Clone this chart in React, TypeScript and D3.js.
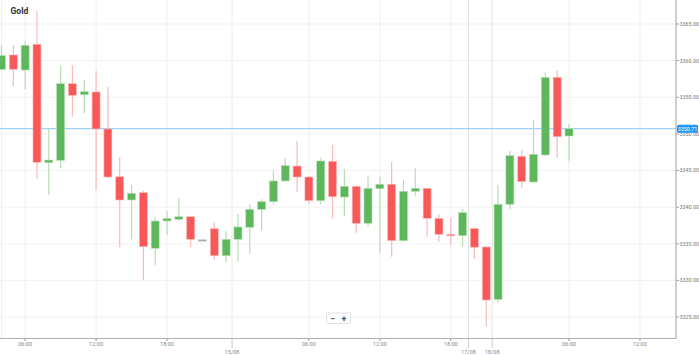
import React from "react";
import * as d3 from "d3";

const opens = [3358.8, 3360.77, 3358.72, 3362.23, 3346.06, 3346.39, 3356.85, 3355.35, 3355.72, 3350.67,
  3344.15, 3340.97, 3341.97, 3334.38, 3338.11, 3338.34, 3338.69, 3335.55, 3337.05, 3333.37,
  3335.61, 3337.25, 3339.7, 3340.74, 3343.57, 3345.61, 3344.11, 3340.88, 3346.26, 3341.38,
  3342.84, 3337.79, 3342.52, 3343.12, 3335.42, 3342.16, 3342.57, 3338.47, 3336.29, 3336.1,
  3337.08, 3334.56, 3327.42, 3340.39, 3346.94, 3343.43, 3347.12, 3357.72, 3349.71];
const highs = [3362.1, 3362.13, 3362.68, 3366.77, 3350.67, 3359.31, 3359.4, 3357.36, 3358.58, 3356.4,
  3346.8, 3343.02, 3342.24, 3338.69, 3339.47, 3341.2, 3338.69, 3335.6, 3337.93, 3336.74,
  3339.02, 3340.43, 3341.07, 3345.11, 3346.75, 3349.03, 3344.2, 3346.75, 3348.48, 3345.16,
  3343.0, 3344.34, 3344.15, 3346.2, 3343.7, 3345.3, 3342.6, 3339.06, 3338.56, 3339.74,
  3337.2, 3334.6, 3343.02, 3347.66, 3347.8, 3351.89, 3358.41, 3358.58, 3351.35];
const lows = [3358.7, 3356.54, 3356.09, 3343.84, 3341.66, 3345.34, 3352.34, 3352.81, 3342.3, 3343.9,
  3334.51, 3335.61, 3330.05, 3332.06, 3336.19, 3338.15, 3334.6, 3335.5, 3332.74, 3332.47,
  3332.55, 3333.56, 3336.78, 3340.39, 3343.5, 3342.11, 3340.43, 3340.39, 3338.47, 3338.75,
  3336.51, 3337.33, 3333.78, 3333.23, 3335.28, 3341.56, 3335.96, 3335.28, 3334.83, 3334.6,
  3332.96, 3323.68, 3326.95, 3339.74, 3342.65, 3343.4, 3346.98, 3346.75, 3346.34];
const closes = [3360.7, 3358.82, 3362.09, 3346.12, 3346.43, 3356.85, 3355.27, 3355.76, 3350.67, 3344.11,
  3340.97, 3341.89, 3334.6, 3338.11, 3338.47, 3338.69, 3335.61, 3335.55, 3333.37, 3335.61,
  3337.29, 3339.7, 3340.74, 3343.57, 3345.66, 3344.11, 3340.88, 3346.3, 3341.42, 3342.84,
  3337.79, 3342.57, 3343.12, 3335.42, 3342.16, 3342.57, 3338.47, 3336.29, 3336.1, 3339.24,
  3334.53, 3327.32, 3340.39, 3347.02, 3343.47, 3347.21, 3357.72, 3349.61, 3350.71];

const priceTicks = [3325, 3330, 3335, 3340, 3345, 3350, 3355, 3360, 3365];
const timeTickIdx = [2, 8, 14, 26, 32, 38, 48, 54];
const timeTickLabels = ["06:00", "12:00", "18:00", "06:00", "12:00", "18:00", "06:00", "12:00"];
const dateTickIdx = [19.5, 39.5, 41.5];
const dateTickLabels = ["15/08", "17/08", "18/08"];
const lastPrice = 3350.71;
const title = "Gold";

const W = 699, H = 356;
const plotRight = 676, axisY = 338.5;
const FONT = "Roboto, 'Open Sans', sans-serif";

export default function App() {
  const x = d3.scaleLinear().domain([-0.127, 57.05]).range([0, plotRight]);
  const y = d3.scaleLinear().domain([3325, 3365]).range([317, 24]);
  const bw = 8;
  const RED = "#f95858", RED_W = "#fbb9b9", GREEN = "#5cb85a", GREEN_W = "#b7ddb5";
  const candles = opens.map((o, i) => ({ i, o, h: highs[i], l: lows[i], c: closes[i] }));

  return (
    <svg width={W} height={H} style={{ position: "absolute", left: 0, top: 0, background: "#fff" }} fontFamily={FONT}>
      <rect x={0} y={0} width={W} height={H} fill="#fff" />
      {/* horizontal grid */}
      {priceTicks.map((p) => (
        <line key={"hg" + p} x1={0} x2={plotRight} y1={y(p)} y2={y(p)} stroke="#f1f1f1" strokeWidth={1} />
      ))}
      {/* vertical grid */}
      <line x1={1.5} x2={1.5} y1={0} y2={axisY} stroke="#eeeeee" />
      {timeTickIdx.map((t, k) => (
        <line key={"vg" + k} x1={x(t)} x2={x(t)} y1={0} y2={axisY} stroke="#f0f0f0" strokeWidth={1} />
      ))}
      {dateTickIdx.map((t, k) => (
        <line key={"dg" + k} x1={x(t)} x2={x(t)} y1={0} y2={axisY} stroke={k === 0 ? "#ececec" : "#e2e2e2"} strokeWidth={1} />
      ))}
      {/* current price line */}
      <line x1={0} x2={plotRight} y1={y(lastPrice)} y2={y(lastPrice)} stroke="#9fd0f5" strokeWidth={1.3} />
      {/* candles */}
      {candles.map((d) => {
        const cx = x(d.i);
        const up = d.c > d.o;
        const flat = d.c === d.o;
        const col = flat ? "#aaaaaa" : up ? GREEN : RED;
        const wcol = flat ? "#cccccc" : up ? GREEN_W : RED_W;
        const top = y(Math.max(d.o, d.c));
        const bot = y(Math.min(d.o, d.c));
        const hgt = Math.max(bot - top, 1.5);
        return (
          <g key={"c" + d.i}>
            <line x1={cx} x2={cx} y1={y(d.h)} y2={y(d.l)} stroke={wcol} strokeWidth={1.2} />
            <rect x={cx - bw / 2} y={top} width={bw} height={hgt} fill={col} stroke={wcol} strokeWidth={0.6} />
          </g>
        );
      })}
      {/* right axis */}
      <line x1={plotRight} x2={plotRight} y1={0} y2={axisY} stroke="#a0a0a0" strokeWidth={1} />
      {priceTicks.map((p) => (
        <g key={"pt" + p}>
          <line x1={plotRight} x2={plotRight + 3} y1={y(p)} y2={y(p)} stroke="#a0a0a0" />
          <text x={plotRight + 3.5} y={y(p) + 1.9} fontSize={5.4} fill="#777">{p.toFixed(2)}</text>
        </g>
      ))}
      {/* price label */}
      <rect x={plotRight + 1} y={y(lastPrice) - 4} width={21} height={8} rx={1.5} fill="#2196f3" />
      <text x={plotRight + 11.5} y={y(lastPrice) + 2} fontSize={5.4} fill="#fff" textAnchor="middle">{lastPrice.toFixed(2)}</text>
      {/* bottom axis */}
      <line x1={0} x2={plotRight} y1={axisY} y2={axisY} stroke="#b0b0b0" strokeWidth={1.2} />
      {timeTickIdx.map((t, k) => (
        <g key={"tt" + k}>
          <line x1={x(t)} x2={x(t)} y1={axisY} y2={axisY + 2.5} stroke="#999" />
          <text x={x(t)} y={axisY + 7.8} fontSize={5.6} fill="#888" textAnchor="middle">{timeTickLabels[k]}</text>
        </g>
      ))}
      {dateTickIdx.map((t, k) => (
        <g key={"dt" + k}>
          <line x1={x(t)} x2={x(t)} y1={axisY} y2={axisY + 9} stroke="#999" strokeDasharray="1,1" />
          <text x={x(t)} y={axisY + 15.5} fontSize={5.6} fill="#888" textAnchor="middle">{dateTickLabels[k]}</text>
        </g>
      ))}
      {/* zoom control */}
      <rect x={326.5} y={313} width={24} height={10.5} rx={1} fill="#fff" stroke="#e0e0e0" />
      <text x={332.5} y={321.5} fontSize={9} fontWeight="bold" fill="#555" textAnchor="middle">−</text>
      <text x={344} y={321.5} fontSize={9} fontWeight="bold" fill="#555" textAnchor="middle">+</text>
      {/* title */}
      <text x={10.5} y={14} fontSize={8.6} fontWeight="bold" fill="#333">{title}</text>
    </svg>
  );
}
